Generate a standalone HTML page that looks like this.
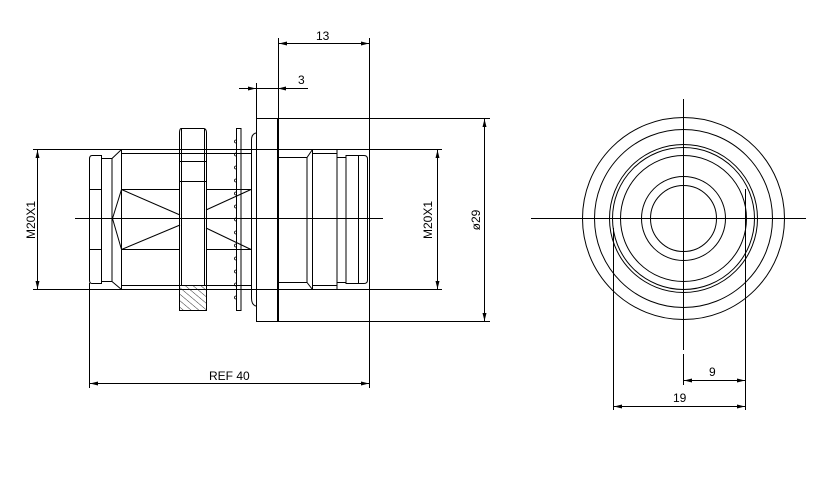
<!DOCTYPE html>
<html><head><meta charset="utf-8"><style>
html,body{margin:0;padding:0;background:#fff;width:829px;height:480px;overflow:hidden}
svg text{font-family:"Liberation Sans",sans-serif;font-size:12px;fill:#000}
</style></head><body>
<svg width="829" height="480" viewBox="0 0 829 480" xmlns="http://www.w3.org/2000/svg">
<defs>
<pattern id="h" width="5" height="5" patternUnits="userSpaceOnUse" patternTransform="rotate(-50)">
<line x1="0" y1="0" x2="0" y2="5" stroke="#000" stroke-width="0.8"/></pattern>
</defs>
<g fill="none" stroke="#000" stroke-width="1">
<!-- centre line -->
<line x1="75" y1="218.5" x2="383" y2="218.5"/>
<!-- thread extension lines -->
<line x1="33" y1="149.5" x2="442" y2="149.5"/>
<line x1="33" y1="289.5" x2="442" y2="289.5"/>
<!-- flange extension -->
<line x1="278" y1="118.5" x2="490" y2="118.5"/>
<line x1="278" y1="321.5" x2="490" y2="321.5"/>
<!-- left end cap -->
<path d="M92 155.5 H101.5 V283.5 H92 Q89.5 283.5 89.5 280 V159 Q89.5 155.5 92 155.5Z"/>
<line x1="89.5" y1="189.5" x2="101.5" y2="189.5"/>
<line x1="89.5" y1="249.5" x2="101.5" y2="249.5"/>
<rect x="101.5" y="158.5" width="10.5" height="123"/>
<path d="M112 158.5 L121.5 149.5 M112 281.5 L121.5 289.5"/>
<line x1="121.5" y1="149.5" x2="121.5" y2="289.5"/>
<line x1="121.5" y1="153.5" x2="251" y2="153.5"/>
<line x1="121.5" y1="285.5" x2="251" y2="285.5"/>
<line x1="121.5" y1="189.5" x2="180" y2="189.5"/>
<line x1="121.5" y1="249.5" x2="180" y2="249.5"/>
<line x1="206" y1="189.5" x2="251" y2="189.5"/>
<line x1="206" y1="249.5" x2="251" y2="249.5"/>
<path d="M121.5 189.5 L112.5 218.5 L121.5 249.5"/>
<path d="M121.5 189.5 L180 215 M180 225 L121.5 249.5"/>
<path d="M206 210 L251 189.5 M206 228 L251 249.5"/>
<!-- nut -->
<path d="M181 128.5 H204 Q206.5 129 206.5 133 V310.5 H179.5 V133 Q179.5 129 181 128.5Z"/>
<line x1="179.5" y1="161.5" x2="206.5" y2="161.5"/>
<line x1="179.5" y1="181.5" x2="206.5" y2="181.5"/>
<rect x="179.5" y="285.5" width="27" height="25" fill="url(#h)"/>
<line x1="181.5" y1="128.5" x2="181.5" y2="285.5"/>
<line x1="204.5" y1="128.5" x2="204.5" y2="285.5"/>
<!-- washer -->
<rect x="236.5" y="128.5" width="4.5" height="182"/>
<g stroke-width="0.8">
<path d="M236 140 a1.5 1.5 0 1 0 0 3 M236 153 a1.5 1.5 0 1 0 0 3 M236 166 a1.5 1.5 0 1 0 0 3 M236 179 a1.5 1.5 0 1 0 0 3 M236 192 a1.5 1.5 0 1 0 0 3 M236 205 a1.5 1.5 0 1 0 0 3 M236 218 a1.5 1.5 0 1 0 0 3 M236 231 a1.5 1.5 0 1 0 0 3 M236 244 a1.5 1.5 0 1 0 0 3 M236 257 a1.5 1.5 0 1 0 0 3 M236 270 a1.5 1.5 0 1 0 0 3 M236 283 a1.5 1.5 0 1 0 0 3 M236 296 a1.5 1.5 0 1 0 0 3"/>
</g>
<path d="M256 133 Q251.5 134 251.5 140 V298 Q251.5 305 256 306"/>
<!-- flange -->
<rect x="256.5" y="118.5" width="21" height="203"/>
<!-- right body -->
<path d="M277.5 157.5 H307 L312.5 149.5 H337 V289.5 H312.5 L307 282.5 H277.5"/>
<line x1="307" y1="157.5" x2="307" y2="282.5"/>
<line x1="312.5" y1="149.5" x2="312.5" y2="289.5"/>
<line x1="312.5" y1="153.5" x2="337" y2="153.5"/>
<line x1="312.5" y1="285.5" x2="337" y2="285.5"/>
<rect x="337" y="157.5" width="9" height="125"/>
<path d="M346 155.5 H364 Q367.5 155.5 367.5 159 V280 Q367.5 283.5 364 283.5 H346 Z"/>
<line x1="358.5" y1="155.5" x2="358.5" y2="283.5"/>
<!-- dimension lines -->
<line x1="278.5" y1="38" x2="278.5" y2="322"/>
<line x1="369.5" y1="38" x2="369.5" y2="388"/>
<line x1="278.5" y1="43.5" x2="369.5" y2="43.5"/>
<line x1="256.5" y1="83" x2="256.5" y2="118"/>
<line x1="239" y1="88.5" x2="308" y2="88.5"/>
<line x1="37.5" y1="149.5" x2="37.5" y2="289.5"/>
<line x1="437.5" y1="149.5" x2="437.5" y2="289.5"/>
<line x1="484.5" y1="118.5" x2="484.5" y2="321.5"/>
<line x1="89.5" y1="283" x2="89.5" y2="388"/>
<line x1="89.5" y1="383.5" x2="369.5" y2="383.5"/>
<!-- right view -->
<line x1="531" y1="218.5" x2="806" y2="218.5"/>
<line x1="683.5" y1="99" x2="683.5" y2="350"/>
<line x1="683.5" y1="354" x2="683.5" y2="385"/>
<circle cx="683.5" cy="218.5" r="101"/>
<circle cx="683.5" cy="218.5" r="89"/>
<circle cx="683.5" cy="218.5" r="74"/>
<circle cx="683.5" cy="218.5" r="71"/>
<circle cx="683.5" cy="218.5" r="63"/>
<circle cx="683.5" cy="218.5" r="42"/>
<circle cx="683.5" cy="218.5" r="33"/>
<line x1="613.5" y1="228" x2="613.5" y2="410"/>
<line x1="745.5" y1="189" x2="745.5" y2="410"/>
<line x1="683.5" y1="380.5" x2="745.5" y2="380.5"/>
<line x1="613.5" y1="406.5" x2="745.5" y2="406.5"/>
</g>
<g fill="#000">
<polygon points="279,43.5 287,41.5 287,45.5"/><polygon points="369,43.5 361,41.5 361,45.5"/>
<polygon points="256,88.5 248,86.5 248,90.5"/><polygon points="278,88.5 286,86.5 286,90.5"/>
<polygon points="37.5,150 35.5,158 39.5,158"/><polygon points="37.5,289 35.5,281 39.5,281"/>
<polygon points="437.5,150 435.5,158 439.5,158"/><polygon points="437.5,289 435.5,281 439.5,281"/>
<polygon points="484.5,119 482.5,127 486.5,127"/><polygon points="484.5,321 482.5,313 486.5,313"/>
<polygon points="90,383.5 98,381.5 98,385.5"/><polygon points="369,383.5 361,381.5 361,385.5"/>
<polygon points="684,380.5 692,378.5 692,382.5"/><polygon points="745,380.5 737,378.5 737,382.5"/>
<polygon points="614,406.5 622,404.5 622,408.5"/><polygon points="745,406.5 737,404.5 737,408.5"/>
</g>
<text x="316" y="40">13</text>
<text x="298" y="84">3</text>
<text x="209" y="380">REF 40</text>
<text x="709" y="376">9</text>
<text x="673" y="402">19</text>
<text transform="translate(35,220) rotate(-90)" text-anchor="middle">M20X1</text>
<text transform="translate(432,220) rotate(-90)" text-anchor="middle">M20X1</text>
<text transform="translate(480,220) rotate(-90)" text-anchor="middle">ø29</text>
</svg>
</body></html>
